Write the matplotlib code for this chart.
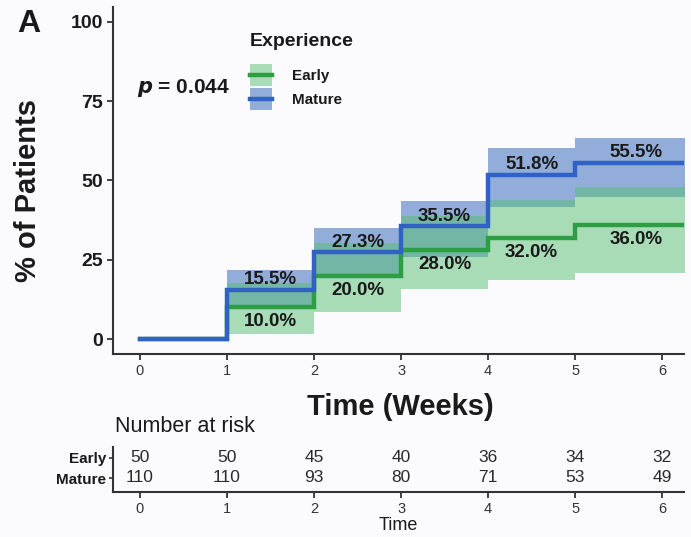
import matplotlib
matplotlib.use("Agg")
import matplotlib.pyplot as plt
from matplotlib.patches import Rectangle
from matplotlib.lines import Line2D

# ---- data -------------------------------------------------------------
event_times = [0, 1, 2, 3, 4, 5]
followup_end = 6.4

early_pct = [0.0, 10.0, 20.0, 28.0, 32.0, 36.0]
early_lo = [0.0, 1.5, 8.6, 15.7, 18.6, 20.7]
early_hi = [0.0, 17.7, 30.2, 38.8, 43.8, 47.9]

mature_pct = [0.0, 15.5, 27.3, 35.5, 51.8, 55.5]
mature_lo = [0.0, 9.5, 20.3, 26.0, 41.5, 44.7]
mature_hi = [0.0, 21.8, 35.1, 43.6, 60.2, 63.5]

risk_times = [0, 1, 2, 3, 4, 5, 6]
early_risk = [50, 50, 45, 40, 36, 34, 32]
mature_risk = [110, 110, 93, 80, 71, 53, 49]

groups = ["Early", "Mature"]
p_value = "0.044"

# ---- style ------------------------------------------------------------
W, H = 691, 537
BG = "#fbfbfd"
INK = "#1a1a1a"
AXC = "#333333"
early_line, early_fill = "#2e9e44", "#56bf72"
mature_line, mature_fill = "#2f62c4", "#3366b8"

plt.rcParams["font.family"] = ["Liberation Sans", "DejaVu Sans"]

def fx(px):
    return px / W

def fy(py):
    return 1 - py / H

fig = plt.figure(figsize=(W / 100, H / 100), dpi=100, facecolor=BG)

# ---- main cumulative incidence panel ---------------------------------
ax = fig.add_axes([fx(113), fy(354), (684 - 113) / W, (354 - 7) / H])
ax.set_facecolor(BG)

xs = event_times + [followup_end]

def ext(v):
    return list(v) + [v[-1]]

ax.fill_between(xs, ext(mature_lo), ext(mature_hi), step="post",
                color=mature_fill, alpha=0.52, lw=0, zorder=1)
ax.fill_between(xs, ext(early_lo), ext(early_hi), step="post",
                color=early_fill, alpha=0.5, lw=0, zorder=2)
ax.step(xs, ext(early_pct), where="post", color=early_line, lw=3.2,
        zorder=3, solid_joinstyle="miter")
ax.step(xs, ext(mature_pct), where="post", color=mature_line, lw=3.2,
        zorder=4, solid_joinstyle="miter")

# percentage labels: mature above its step, early below
for i in range(1, len(event_times)):
    mid = (xs[i] + xs[i + 1]) / 2
    ax.annotate(f"{mature_pct[i]:.1f}%", (mid, mature_pct[i]),
                xytext=(0, 7.5), textcoords="offset points",
                ha="center", va="center", fontsize=13.5,
                fontweight="bold", color=INK, zorder=6)
    ax.annotate(f"{early_pct[i]:.1f}%", (mid, early_pct[i]),
                xytext=(0, -10.5), textcoords="offset points",
                ha="center", va="center", fontsize=13.5,
                fontweight="bold", color=INK, zorder=6)

ax.set_xlim(-0.31, 6.25)
ax.set_ylim(-4.73, 104.7)
ax.set_xticks(risk_times)
ax.set_yticks([0, 25, 50, 75, 100])
ax.tick_params(axis="y", labelsize=14, length=4, width=1.3, color=AXC,
               labelcolor=INK, pad=3)
ax.tick_params(axis="x", labelsize=10.5, length=4, width=1.3, color=AXC,
               labelcolor="#333333", pad=3)
for lab in ax.get_yticklabels():
    lab.set_fontweight("bold")
for s in ("top", "right"):
    ax.spines[s].set_visible(False)
for s in ("left", "bottom"):
    ax.spines[s].set_color(AXC)
    ax.spines[s].set_linewidth(1.5)

fig.text(fx(28), fy(190), "% of Patients", rotation=90, ha="center",
         va="center", fontsize=21, fontweight="bold", color=INK)
fig.text(fx(400), fy(407), "Time (Weeks)", ha="center", va="center",
         fontsize=21, fontweight="bold", color=INK)
fig.text(fx(17), fy(24), "A", ha="left", va="center", fontsize=23,
         fontweight="bold", color=INK)
fig.text(fx(137), fy(88), r"$\boldsymbol{p}$" + f" = {p_value}", ha="left",
         va="center", fontsize=15, fontweight="bold", color=INK)

# ---- legend -----------------------------------------------------------
fig.text(fx(250), fy(42), "Experience", ha="left", va="center",
         fontsize=14, fontweight="bold", color=INK)
legend_rows = [(75, early_line, early_fill, 0.5),
               (99, mature_line, mature_fill, 0.52)]
for name, (yc, lc, fc, al) in zip(groups, legend_rows):
    fig.add_artist(Rectangle((fx(250), fy(yc + 11)), 22 / W, 22 / H,
                             transform=fig.transFigure, facecolor=fc,
                             alpha=al, lw=0))
    fig.add_artist(Line2D([fx(250), fx(272)], [fy(yc), fy(yc)],
                          transform=fig.transFigure, color=lc, lw=3.2))
    fig.text(fx(292), fy(yc + 1), name, ha="left", va="center",
             fontsize=11, fontweight="bold", color=INK)

# ---- number at risk table ---------------------------------------------
fig.text(fx(115), fy(427), "Number at risk", ha="left", va="center",
         fontsize=15.5, color=INK)

tx = fig.add_axes([fx(113), fy(492), (684 - 113) / W, (492 - 447) / H])
tx.set_facecolor(BG)
tx.set_xlim(-0.31, 6.25)
tx.set_ylim(-0.7, 1.55)
for t, n in zip(risk_times, early_risk):
    tx.text(t, 1, str(n), ha="center", va="center", fontsize=12.5,
            color="#2a2a2a")
for t, n in zip(risk_times, mature_risk):
    tx.text(t, 0, str(n), ha="center", va="center", fontsize=12.5,
            color="#2a2a2a")
tx.set_yticks([1, 0])
tx.set_yticklabels(groups, fontsize=11, fontweight="bold", color=INK)
tx.set_xticks(risk_times)
tx.tick_params(axis="y", length=3, width=1.2, color=AXC, pad=2)
tx.tick_params(axis="x", labelsize=10.5, length=4, width=1.3, color=AXC,
               labelcolor="#333333", pad=3)
tx.set_xlabel("Time", fontsize=13, color=INK, labelpad=1)
for s in ("top", "right"):
    tx.spines[s].set_visible(False)
for s in ("left", "bottom"):
    tx.spines[s].set_color(AXC)
    tx.spines[s].set_linewidth(1.5)

fig.savefig("out.png", dpi=100, facecolor=BG)
